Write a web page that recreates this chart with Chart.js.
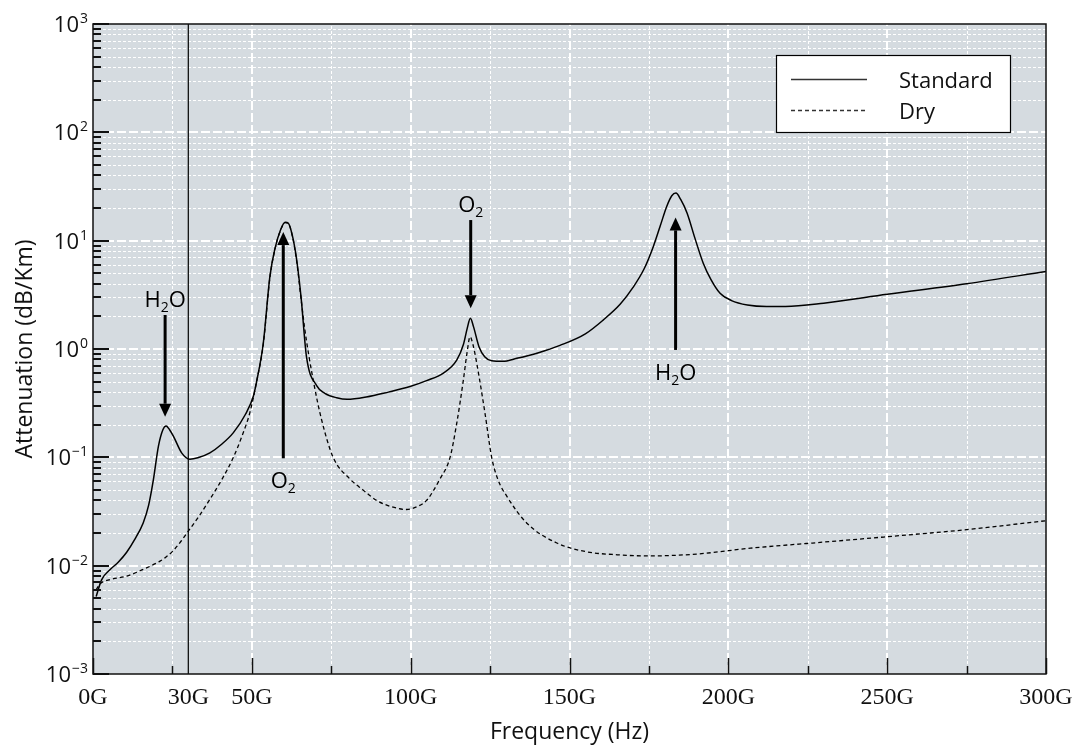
<!DOCTYPE html>
<html>
<head>
<meta charset="utf-8">
<script src="https://cdn.jsdelivr.net/npm/chart.js@4.4.0/dist/chart.umd.min.js"></script>
<style>
html, body { margin: 0; padding: 0; background: #fff; }
</style>
</head>
<body>
<canvas id="atten" width="1076" height="746"></canvas>
<script>
// Standard atmosphere (GHz, dB/Km)
const stdFreq = [1.0, 2.7, 5.4, 8, 10.6, 13, 15.8, 17.5, 19, 20.6, 22, 23, 24.2, 25.3, 27.9, 30.5, 33, 36.8, 40.5, 44.2, 48, 50.5, 51.5, 53.6, 55.7, 57.3, 59, 60.5, 61.5, 62.8, 64.1, 65.5, 67.2, 70.4, 73, 76.7, 80, 86, 93, 99.8, 105, 110.3, 114.5, 116.6, 117.8, 118.8, 119.8, 121.5, 123.3, 125.5, 129, 133.4, 140, 147, 155, 160.6, 166, 170, 173.5, 176.4, 178.5, 180.6, 182.2, 183.5, 185, 187, 189.5, 192.1, 194.5, 197.4, 201, 206, 212, 218, 230, 250, 275, 300]
const stdAtten = [0.0052, 0.0074, 0.0092, 0.0108, 0.0133, 0.0172, 0.0248, 0.036, 0.062, 0.127, 0.18, 0.195, 0.178, 0.157, 0.11, 0.096, 0.099, 0.11, 0.132, 0.169, 0.25, 0.368, 0.5, 1.13, 4.7, 8.5, 12.5, 14.8, 14.5, 11, 6.7, 3, 0.85, 0.46, 0.39, 0.355, 0.343, 0.36, 0.4, 0.45, 0.51, 0.6, 0.79, 1.1, 1.55, 1.92, 1.6, 1.05, 0.85, 0.78, 0.77, 0.82, 0.92, 1.08, 1.38, 1.85, 2.6, 3.7, 5.5, 8.85, 13.5, 20.7, 26, 27.5, 24, 18, 10.5, 6.2, 4.4, 3.27, 2.8, 2.55, 2.47, 2.47, 2.65, 3.2, 4.0, 5.2]

// Dry atmosphere
const dryFreq = [1.0, 2.2, 5, 10.6, 16, 21.1, 23, 25.3, 27.7, 30, 33.5, 36.8, 40.5, 44.2, 47, 49.4, 51.5, 53.6, 55.7, 57.3, 59, 60.5, 61.5, 62.8, 64.1, 65.5, 66.7, 69.3, 72, 75.6, 80.9, 85, 89.3, 94, 98.7, 102, 105, 109.2, 112.4, 114.5, 116.6, 117.8, 118.7, 119.6, 120.8, 123.4, 125.5, 127.5, 130.2, 136.5, 146, 155, 165, 175, 190, 207, 230, 250, 275, 300]
const dryAtten = [0.006, 0.0068, 0.0074, 0.008, 0.0093, 0.011, 0.012, 0.0138, 0.0168, 0.0208, 0.029, 0.041, 0.062, 0.1, 0.16, 0.26, 0.5, 1.1, 4.6, 8.4, 12.4, 14.7, 14.4, 10.9, 6.5, 2.9, 1.5, 0.52, 0.22, 0.1, 0.063, 0.05, 0.04, 0.035, 0.033, 0.035, 0.04, 0.063, 0.1, 0.206, 0.52, 0.95, 1.3, 1.1, 0.74, 0.255, 0.1, 0.062, 0.044, 0.0248, 0.0162, 0.0135, 0.0126, 0.0123, 0.0128, 0.0145, 0.0165, 0.0185, 0.0215, 0.026]

const xTicks = [0, 25, 30, 50, 75, 100, 125, 150, 175, 200, 225, 250, 275, 300]
const xLabeled = [0, 30, 50, 100, 150, 200, 250, 300]
const yMinExp = -3, yMaxExp = 3
const markerFreq = 30 // vertical line

// absorption lines: where the arrow sits, arrow tail and tip (dB/Km), molecule
const annFreq = [22.7, 59.9, 118.9, 183.4]
const annFrom = [2.06, 0.098, 15.5, 0.98]
const annTo = [0.237, 12.0, 2.38, 16.4]
const annMol = ['H2O', 'O2', 'O2', 'H2O']

const SANS = '"Open Sans", "DejaVu Sans", sans-serif'
const SERIF = '"Liberation Serif", "DejaVu Serif", serif'

function pts(xs, ys) { return xs.map((v, i) => ({x: v, y: ys[i]})) }

// draws text where digits are set as subscripts, centred on cx
function drawChem(ctx, txt, cx, base) {
    const big = '22px ' + SANS, small = '14px ' + SANS
    let parts = txt.split('').map(c => ({c, sub: /[0-9]/.test(c)}))
    let w = 0
    for (const p of parts) {
        ctx.font = p.sub ? small : big
        p.w = ctx.measureText(p.c).width
        w += p.w
    }
    let x = cx - w / 2
    ctx.textAlign = 'left'
    ctx.textBaseline = 'alphabetic'
    for (const p of parts) {
        ctx.font = p.sub ? small : big
        ctx.fillText(p.c, x, p.sub ? base + 5 : base)
        x += p.w
    }
}

const plotFrame = {
    id: 'plotFrame',
    beforeDatasetsDraw(chart) {
        const {ctx, chartArea: a, scales: {x, y}} = chart
        ctx.save()
        ctx.fillStyle = '#d5dbe0'
        ctx.fillRect(a.left, a.top, a.right - a.left, a.bottom - a.top)
        ctx.strokeStyle = '#fff'
        for (const t of y.ticks) {
            const py = Math.round(y.getPixelForValue(t.value))
            if (py <= a.top + 1 || py >= a.bottom - 1) continue
            ctx.lineWidth = t.major ? 2 : 1
            ctx.setLineDash(t.major ? [9, 3] : [3, 2])
            ctx.beginPath()
            ctx.moveTo(a.left, py + (t.major ? 0 : 0.5))
            ctx.lineTo(a.right, py + (t.major ? 0 : 0.5))
            ctx.stroke()
        }
        for (const t of x.ticks) {
            if (t.value % 25 !== 0 || t.value <= 0 || t.value >= 300) continue
            const px = Math.round(x.getPixelForValue(t.value))
            const major = t.value % 50 === 0
            ctx.lineWidth = major ? 2 : 1
            ctx.setLineDash(major ? [9, 3] : [3, 2])
            ctx.beginPath()
            ctx.moveTo(px + (major ? 0 : 0.5), a.bottom)
            ctx.lineTo(px + (major ? 0 : 0.5), a.top)
            ctx.stroke()
        }
        ctx.restore()
    },
    afterDatasetsDraw(chart) {
        const {ctx, chartArea: a, scales: {x, y}} = chart
        ctx.save()
        ctx.setLineDash([])
        ctx.strokeStyle = '#111'
        // inward ticks, left axis
        ctx.lineWidth = 2
        for (const t of y.ticks) {
            const py = Math.round(y.getPixelForValue(t.value))
            ctx.beginPath()
            ctx.moveTo(a.left, py)
            ctx.lineTo(a.left + (t.major ? 16 : 8), py)
            ctx.stroke()
        }
        // inward ticks, bottom axis
        ctx.lineWidth = 1.5
        for (const t of x.ticks) {
            if (t.value % 25 !== 0) continue
            const px = Math.round(x.getPixelForValue(t.value)) + 0.5
            ctx.beginPath()
            ctx.moveTo(px, a.bottom)
            ctx.lineTo(px, a.bottom - (t.value % 50 === 0 ? 16 : 8))
            ctx.stroke()
        }
        ctx.lineWidth = 1.5
        ctx.strokeRect(a.left, a.top, a.right - a.left, a.bottom - a.top)

        // arrows + molecule labels
        ctx.fillStyle = '#000'
        ctx.strokeStyle = '#000'
        annFreq.forEach((f, i) => {
            const px = x.getPixelForValue(f)
            const p0 = y.getPixelForValue(annFrom[i])
            const p1 = y.getPixelForValue(annTo[i])
            const dir = p1 > p0 ? 1 : -1
            const head = 13
            ctx.lineWidth = 3
            ctx.beginPath()
            ctx.moveTo(px, p0)
            ctx.lineTo(px, p1 - dir * head)
            ctx.stroke()
            ctx.beginPath()
            ctx.moveTo(px, p1)
            ctx.lineTo(px - 6, p1 - dir * head)
            ctx.lineTo(px + 6, p1 - dir * head)
            ctx.closePath()
            ctx.fill()
            drawChem(ctx, annMol[i], px, dir > 0 ? p0 - 8 : p0 + 30)
        })

        // legend
        const lx = 776, ly = 55
        ctx.fillStyle = '#fff'
        ctx.fillRect(lx, ly, 234, 77)
        ctx.lineWidth = 1.2
        ctx.strokeStyle = '#000'
        ctx.strokeRect(lx + 0.5, ly + 0.5, 234, 77)
        chart.data.datasets.slice(0, 2).forEach((ds, i) => {
            const yy = ly + 24.5 + i * 31
            ctx.strokeStyle = '#333'
            ctx.lineWidth = ds.borderWidth
            ctx.setLineDash(ds.borderDash || [])
            ctx.beginPath()
            ctx.moveTo(lx + 15, yy)
            ctx.lineTo(lx + 91, yy)
            ctx.stroke()
            ctx.setLineDash([])
            ctx.fillStyle = '#111'
            ctx.font = '22px ' + SANS
            ctx.textAlign = 'left'
            ctx.textBaseline = 'alphabetic'
            ctx.fillText(ds.label, lx + 123, yy + 8)
        })

        // tick labels
        ctx.fillStyle = '#111'
        for (const t of y.ticks) {
            if (!t.major) continue
            const py = y.getPixelForValue(t.value)
            const e = Math.round(Math.log10(t.value))
            const ex = e < 0 ? '\u2212' + (-e) : String(e)
            ctx.textBaseline = 'alphabetic'
            ctx.textAlign = 'right'
            ctx.font = '14px ' + SANS
            const ew = ctx.measureText(ex).width
            ctx.fillText(ex, 88, py - 1)
            ctx.font = '22px ' + SANS
            ctx.fillText('10', 88 - ew - 1, py + 8)
        }
        ctx.font = '24px ' + SERIF
        ctx.textAlign = 'center'
        for (const t of x.ticks) {
            if (!xLabeled.includes(t.value)) continue
            ctx.fillText(t.label, x.getPixelForValue(t.value), 704)
        }

        // axis titles
        ctx.font = '23px ' + SANS
        ctx.fillText('Frequency (Hz)', (a.left + a.right) / 2, 739)
        ctx.translate(25, (a.top + a.bottom) / 2)
        ctx.rotate(-Math.PI / 2)
        ctx.textBaseline = 'middle'
        ctx.fillText('Attenuation (dB/Km)', 0, 0)
        ctx.restore()
    }
}

new Chart(document.getElementById('atten'), {
    type: 'line',
    data: {
        datasets: [
            {label: 'Standard', data: pts(stdFreq, stdAtten), borderColor: '#000', borderWidth: 1.5,
             pointRadius: 0, cubicInterpolationMode: 'monotone', fill: false},
            {label: 'Dry', data: pts(dryFreq, dryAtten), borderColor: '#000', borderWidth: 1.3,
             borderDash: [4, 3], pointRadius: 0, cubicInterpolationMode: 'monotone', fill: false},
            {label: '30G', data: [{x: markerFreq, y: 1e-3}, {x: markerFreq, y: 1e3}], borderColor: '#000',
             borderWidth: 1.2, pointRadius: 0, fill: false}
        ]
    },
    options: {
        responsive: false,
        animation: false,
        devicePixelRatio: 1,
        layout: {padding: {top: 24, right: 30, left: 0, bottom: 0}},
        plugins: {legend: {display: false}, tooltip: {enabled: false}},
        scales: {
            x: {
                type: 'linear', min: 0, max: 300,
                grid: {display: false}, border: {display: false},
                ticks: {display: false, callback: v => v + 'G'},
                afterBuildTicks: s => { s.ticks = xTicks.map(v => ({value: v, major: v % 50 === 0})) },
                afterFit: s => { s.height = 72 }
            },
            y: {
                type: 'logarithmic', min: 1e-3, max: 1e3,
                grid: {display: false}, border: {display: false},
                ticks: {display: false},
                afterBuildTicks: s => {
                    const t = []
                    for (let e = yMinExp; e <= yMaxExp; e++) {
                        for (let m = 1; m <= (e === yMaxExp ? 1 : 9); m++) {
                            t.push({value: Number((m * Math.pow(10, e)).toPrecision(3)), major: m === 1})
                        }
                    }
                    s.ticks = t
                },
                afterFit: s => { s.width = 93 }
            }
        }
    },
    plugins: [plotFrame]
})
</script>
</body>
</html>
